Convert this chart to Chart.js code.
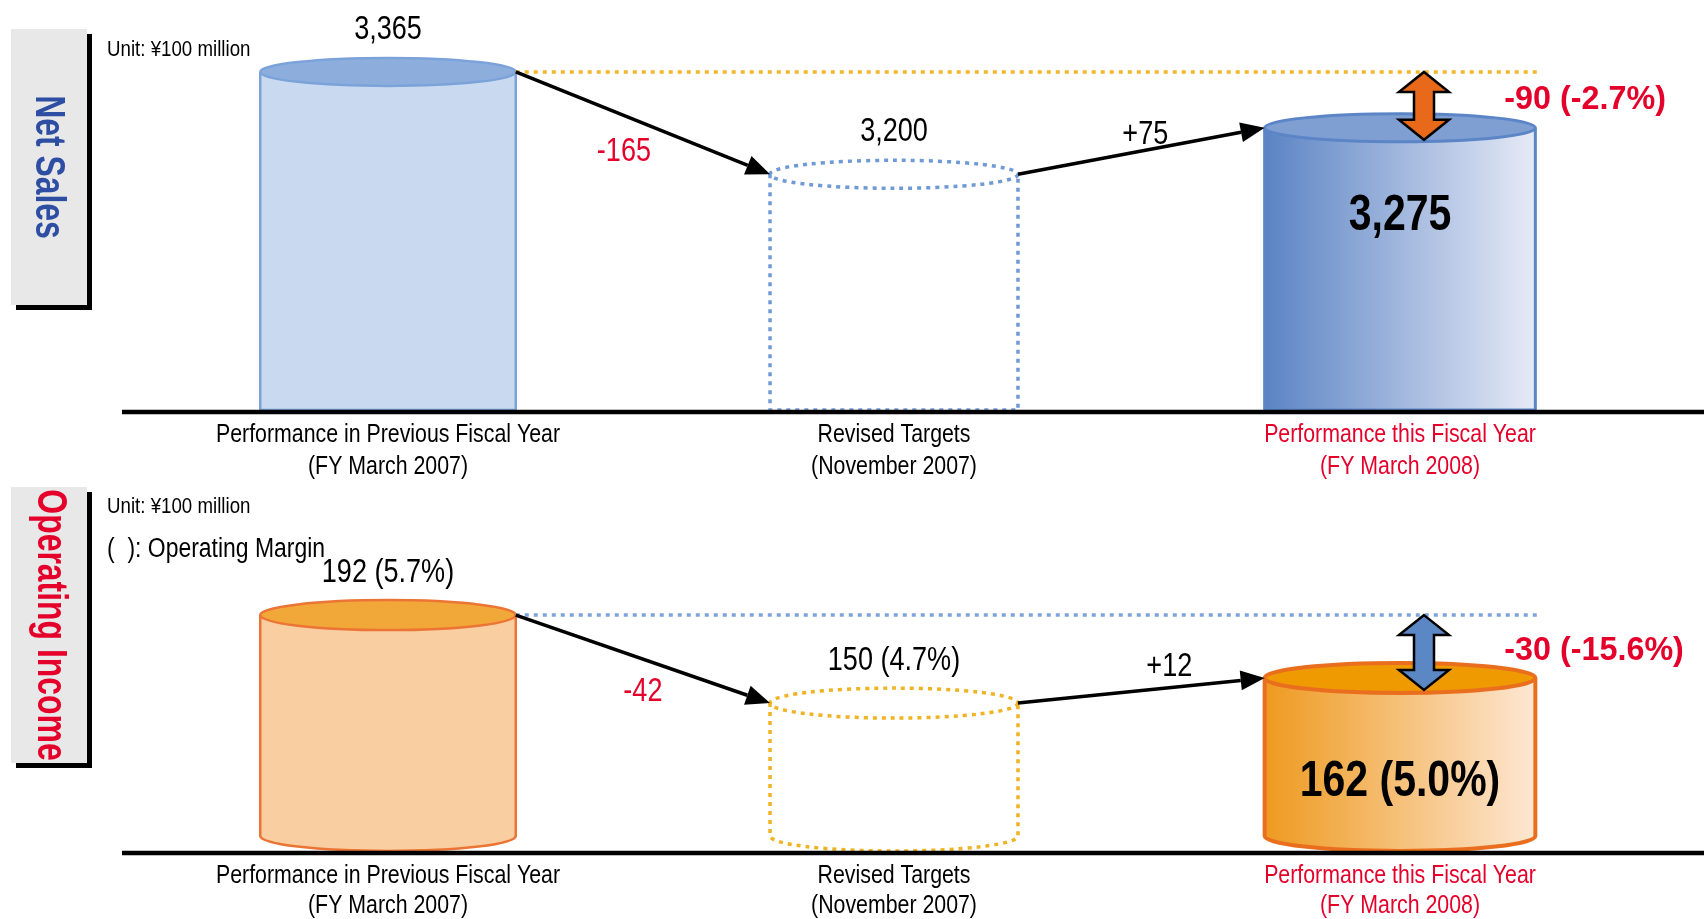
<!DOCTYPE html>
<html>
<head>
<meta charset="utf-8">
<script src="https://cdn.jsdelivr.net/npm/chart.js@4.4.1/dist/chart.umd.min.js"></script>
<style>
  html, body { margin: 0; padding: 0; background: #fff; overflow: hidden; }
  canvas { display: block; }
</style>
</head>
<body>
<canvas id="salesChart" width="1704" height="480"></canvas>
<canvas id="incomeChart" width="1704" height="439"></canvas>
<script>
// Data
const categories = [
  ['Performance in Previous Fiscal Year', '(FY March 2007)'],
  ['Revised Targets', '(November 2007)'],
  ['Performance this Fiscal Year', '(FY March 2008)']
];
const netSales = [3365, 3200, 3275];
const operatingIncome = [192, 150, 162];
const operatingMargin = [5.7, 4.7, 5.0];

const FAMILY = "'Liberation Sans', Arial, sans-serif";
const RED = '#e4002b';
Chart.defaults.font.family = FAMILY;

// condensed text: Liberation Sans squeezed sideways
function drawText(ctx, str, x, y, o) {
  ctx.save();
  ctx.translate(x, y);
  if (o.rotate) ctx.rotate(o.rotate);
  ctx.scale(o.sx || 0.82, 1);
  ctx.font = (o.bold ? 'bold ' : '') + o.size + 'px ' + FAMILY;
  ctx.fillStyle = o.color || '#000';
  ctx.textAlign = o.align || 'center';
  ctx.textBaseline = o.baseline || 'middle';
  ctx.fillText(str, 0, 0);
  ctx.restore();
}

function signed(v) {
  return (v > 0 ? '+' : '') + v;
}

// Black arrow from one bar top to the next
function arrowLine(ctx, x1, y1, x2, y2) {
  const a = Math.atan2(y2 - y1, x2 - x1);
  const len = 24, hw = 10;
  const bx = x2 - len * Math.cos(a), by = y2 - len * Math.sin(a);
  ctx.setLineDash([]);
  ctx.strokeStyle = '#000';
  ctx.lineWidth = 3.5;
  ctx.beginPath();
  ctx.moveTo(x1, y1);
  ctx.lineTo(bx, by);
  ctx.stroke();
  ctx.fillStyle = '#000';
  ctx.beginPath();
  ctx.moveTo(x2, y2);
  ctx.lineTo(bx + hw * Math.sin(a), by - hw * Math.cos(a));
  ctx.lineTo(bx - hw * Math.sin(a), by + hw * Math.cos(a));
  ctx.closePath();
  ctx.fill();
}

// Up/down block arrow showing the gap
function doubleArrow(ctx, x, y1, y2, fill) {
  const sw = 10, hw = 25, hl = 20;
  ctx.setLineDash([]);
  ctx.beginPath();
  ctx.moveTo(x, y1);
  ctx.lineTo(x + hw, y1 + hl);
  ctx.lineTo(x + sw, y1 + hl);
  ctx.lineTo(x + sw, y2 - hl);
  ctx.lineTo(x + hw, y2 - hl);
  ctx.lineTo(x, y2);
  ctx.lineTo(x - hw, y2 - hl);
  ctx.lineTo(x - sw, y2 - hl);
  ctx.lineTo(x - sw, y1 + hl);
  ctx.lineTo(x - hw, y1 + hl);
  ctx.closePath();
  ctx.fillStyle = fill;
  ctx.fill();
  ctx.lineWidth = 2.5;
  ctx.strokeStyle = '#000';
  ctx.lineJoin = 'miter';
  ctx.stroke();
}

function drawCylinder(ctx, g, s, ry, roundBottom) {
  const bottom = roundBottom ? g.base - ry : g.base;
  let fill = s.body;
  if (s.gradient) {
    fill = ctx.createLinearGradient(g.left, 0, g.right, 0);
    fill.addColorStop(0, s.gradient[0]);
    fill.addColorStop(1, s.gradient[1]);
  }
  if (fill) {
    ctx.beginPath();
    ctx.moveTo(g.left, g.top);
    ctx.lineTo(g.left, bottom);
    if (roundBottom) ctx.ellipse(g.cx, bottom, g.rx, ry, 0, Math.PI, 0, true);
    else ctx.lineTo(g.right, bottom);
    ctx.lineTo(g.right, g.top);
    ctx.closePath();
    ctx.fillStyle = fill;
    ctx.fill();
  }
  ctx.strokeStyle = s.stroke;
  ctx.lineWidth = s.lineWidth;
  ctx.setLineDash(s.dash || []);
  ctx.beginPath();
  ctx.moveTo(g.left, g.top);
  ctx.lineTo(g.left, bottom);
  if (roundBottom) ctx.ellipse(g.cx, bottom, g.rx, ry, 0, Math.PI, 0, true);
  else ctx.lineTo(g.right, bottom);
  ctx.lineTo(g.right, g.top);
  ctx.stroke();
  // top cap
  ctx.beginPath();
  ctx.ellipse(g.cx, g.top, g.rx, ry, 0, 0, Math.PI * 2);
  if (s.cap) {
    ctx.fillStyle = s.cap;
    ctx.fill();
  }
  ctx.stroke();
}

const cylinderPlugin = {
  id: 'cylinders',
  beforeDraw(chart, args, o) {
    const ctx = chart.ctx;
    const b = o.box;
    ctx.save();
    // side title box with shadow
    ctx.fillStyle = '#000';
    ctx.fillRect(b.x + 5, b.y + 5, b.w, b.h);
    ctx.fillStyle = '#e8e8e8';
    ctx.fillRect(b.x, b.y, b.w, b.h);
    ctx.restore();
    drawText(ctx, o.title, b.textX, b.y + b.h / 2, {
      size: 42, bold: true, color: o.titleColor, sx: 0.76, rotate: Math.PI / 2, baseline: 'alphabetic'
    });
    o.notes.forEach(n => drawText(ctx, n.text, 107, n.y, { size: n.size, sx: 0.85, align: 'left' }));
  },
  afterDatasetsDraw(chart, args, o) {
    const ctx = chart.ctx;
    const values = chart.data.datasets[0].data;
    const ys = chart.scales.y;
    const xs = chart.scales.x;
    const base = ys.getPixelForValue(ys.min);
    const geo = chart.getDatasetMeta(0).data.map((bar, i) => {
      const w = bar.width * o.widths[i];
      return { cx: bar.x, left: bar.x - w / 2, right: bar.x + w / 2, rx: w / 2, top: bar.y, base: base };
    });
    ctx.save();
    geo.forEach((g, i) => drawCylinder(ctx, g, o.styles[i], o.ry, o.roundBottom));

    // axis base line
    ctx.setLineDash([]);
    ctx.strokeStyle = '#000';
    ctx.lineWidth = 4.5;
    ctx.beginPath();
    ctx.moveTo(122, base + 2);
    ctx.lineTo(chart.width, base + 2);
    ctx.stroke();

    // category labels under the axis
    chart.data.labels.forEach((lines, i) => {
      const x = xs.getPixelForTick(i);
      lines.forEach((t, j) => drawText(ctx, t, x, base + 25 + j * o.lineGap, {
        size: 26, color: i === 2 ? RED : '#000'
      }));
    });

    // reference line at previous year level
    ctx.strokeStyle = o.refColor;
    ctx.lineWidth = 3.5;
    ctx.setLineDash([4, 5]);
    ctx.beginPath();
    ctx.moveTo(geo[0].right, geo[0].top);
    ctx.lineTo(geo[2].right + 4, geo[0].top);
    ctx.stroke();

    // change arrows
    arrowLine(ctx, geo[0].right, geo[0].top, geo[1].left, geo[1].top);
    arrowLine(ctx, geo[1].right, geo[1].top, geo[2].left, geo[2].top);

    for (let i = 0; i < 2; i++) {
      const d = values[i + 1] - values[i];
      const mx = (geo[i].right + geo[i + 1].left) / 2;
      const my = (geo[i].top + geo[i + 1].top) / 2;
      drawText(ctx, signed(d), mx + o.deltaOffsets[i][0], my + o.deltaOffsets[i][1], {
        size: 33, color: d < 0 ? RED : '#000'
      });
    }

    // value labels above first two bars
    for (let i = 0; i < 2; i++) {
      drawText(ctx, o.format(i), geo[i].cx, geo[i].top - 42, { size: 33 });
    }
    // big label inside this year's bar
    drawText(ctx, o.format(2), geo[2].cx, o.innerY, { size: 50, bold: true });

    // gap vs previous year
    doubleArrow(ctx, geo[2].cx + 24, geo[0].top, geo[2].top + 12, o.gapColor);
    const gap = values[2] - values[0];
    const pct = (gap / values[0] * 100).toFixed(1);
    drawText(ctx, signed(gap) + ' (' + pct + '%)', geo[2].right - 31, geo[0].top + o.gapOffset, {
      size: 34, bold: true, sx: 0.95, color: RED, align: 'left'
    });
    ctx.restore();
  }
};

function makeChart(id, values, cfg) {
  return new Chart(document.getElementById(id), {
    type: 'bar',
    data: {
      labels: categories,
      datasets: [{
        data: values,
        backgroundColor: 'rgba(0,0,0,0)',
        borderWidth: 0,
        barPercentage: 0.5,
        categoryPercentage: 1
      }]
    },
    options: {
      responsive: false,
      animation: false,
      events: [],
      layout: { padding: { left: 135, right: 51, top: 0, bottom: 0 } },
      plugins: {
        legend: { display: false },
        tooltip: { enabled: false },
        cylinders: cfg.plugin
      },
      scales: {
        x: {
          grid: { display: false, drawTicks: false },
          border: { display: false },
          ticks: { display: false },
          afterFit: s => { s.height = cfg.axisHeight; }
        },
        y: { display: false, min: cfg.min, max: cfg.max }
      }
    },
    plugins: [cylinderPlugin]
  });
}

makeChart('salesChart', netSales, {
  min: 2820, max: 3481, axisHeight: 70,
  plugin: {
    title: 'Net Sales', titleColor: '#2d4ea2',
    box: { x: 11, y: 29, w: 76, h: 276, textX: 36 },
    notes: [{ text: 'Unit: ¥100 million', y: 50, size: 22 }],
    widths: [1.01, 0.98, 1.07],
    ry: 14, roundBottom: false, lineGap: 32,
    refColor: '#f2b52c', gapColor: '#e8691a',
    deltaOffsets: [[-19, 29], [4, -16]],
    innerY: 216, gapOffset: 28,
    format: i => netSales[i].toLocaleString('en-US'),
    styles: [
      { body: '#c9d9ef', cap: '#8daedd', stroke: '#7ba3d9', lineWidth: 2.5 },
      { stroke: '#6f9ad6', lineWidth: 3.5, dash: [4, 5] },
      { gradient: ['#5b84c4', '#e6eaf6'], cap: '#7f9fd3', stroke: '#5b85c6', lineWidth: 3 }
    ]
  }
});

makeChart('incomeChart', operatingIncome, {
  min: 79.4, max: 256.5, axisHeight: 68,
  plugin: {
    title: 'Operating Income', titleColor: RED,
    box: { x: 11, y: 7, w: 76, h: 276, textX: 38 },
    notes: [
      { text: 'Unit: ¥100 million', y: 27, size: 22 },
      { text: '(  ): Operating Margin', y: 70, size: 27 }
    ],
    widths: [1.01, 0.98, 1.07],
    ry: 15, roundBottom: true, lineGap: 30,
    refColor: '#7ea4db', gapColor: '#5b87c5',
    deltaOffsets: [[0, 33], [28, -24]],
    innerY: 302, gapOffset: 36,
    format: i => operatingIncome[i] + ' (' + operatingMargin[i].toFixed(1) + '%)',
    styles: [
      { body: '#f9cea1', cap: '#f1a838', stroke: '#ec7434', lineWidth: 2.5 },
      { stroke: '#f0b323', lineWidth: 3.5, dash: [4, 5] },
      { gradient: ['#ee9a20', '#fde7d3'], cap: '#ee9a00', stroke: '#e96f1e', lineWidth: 4 }
    ]
  }
});
</script>
</body>
</html>
